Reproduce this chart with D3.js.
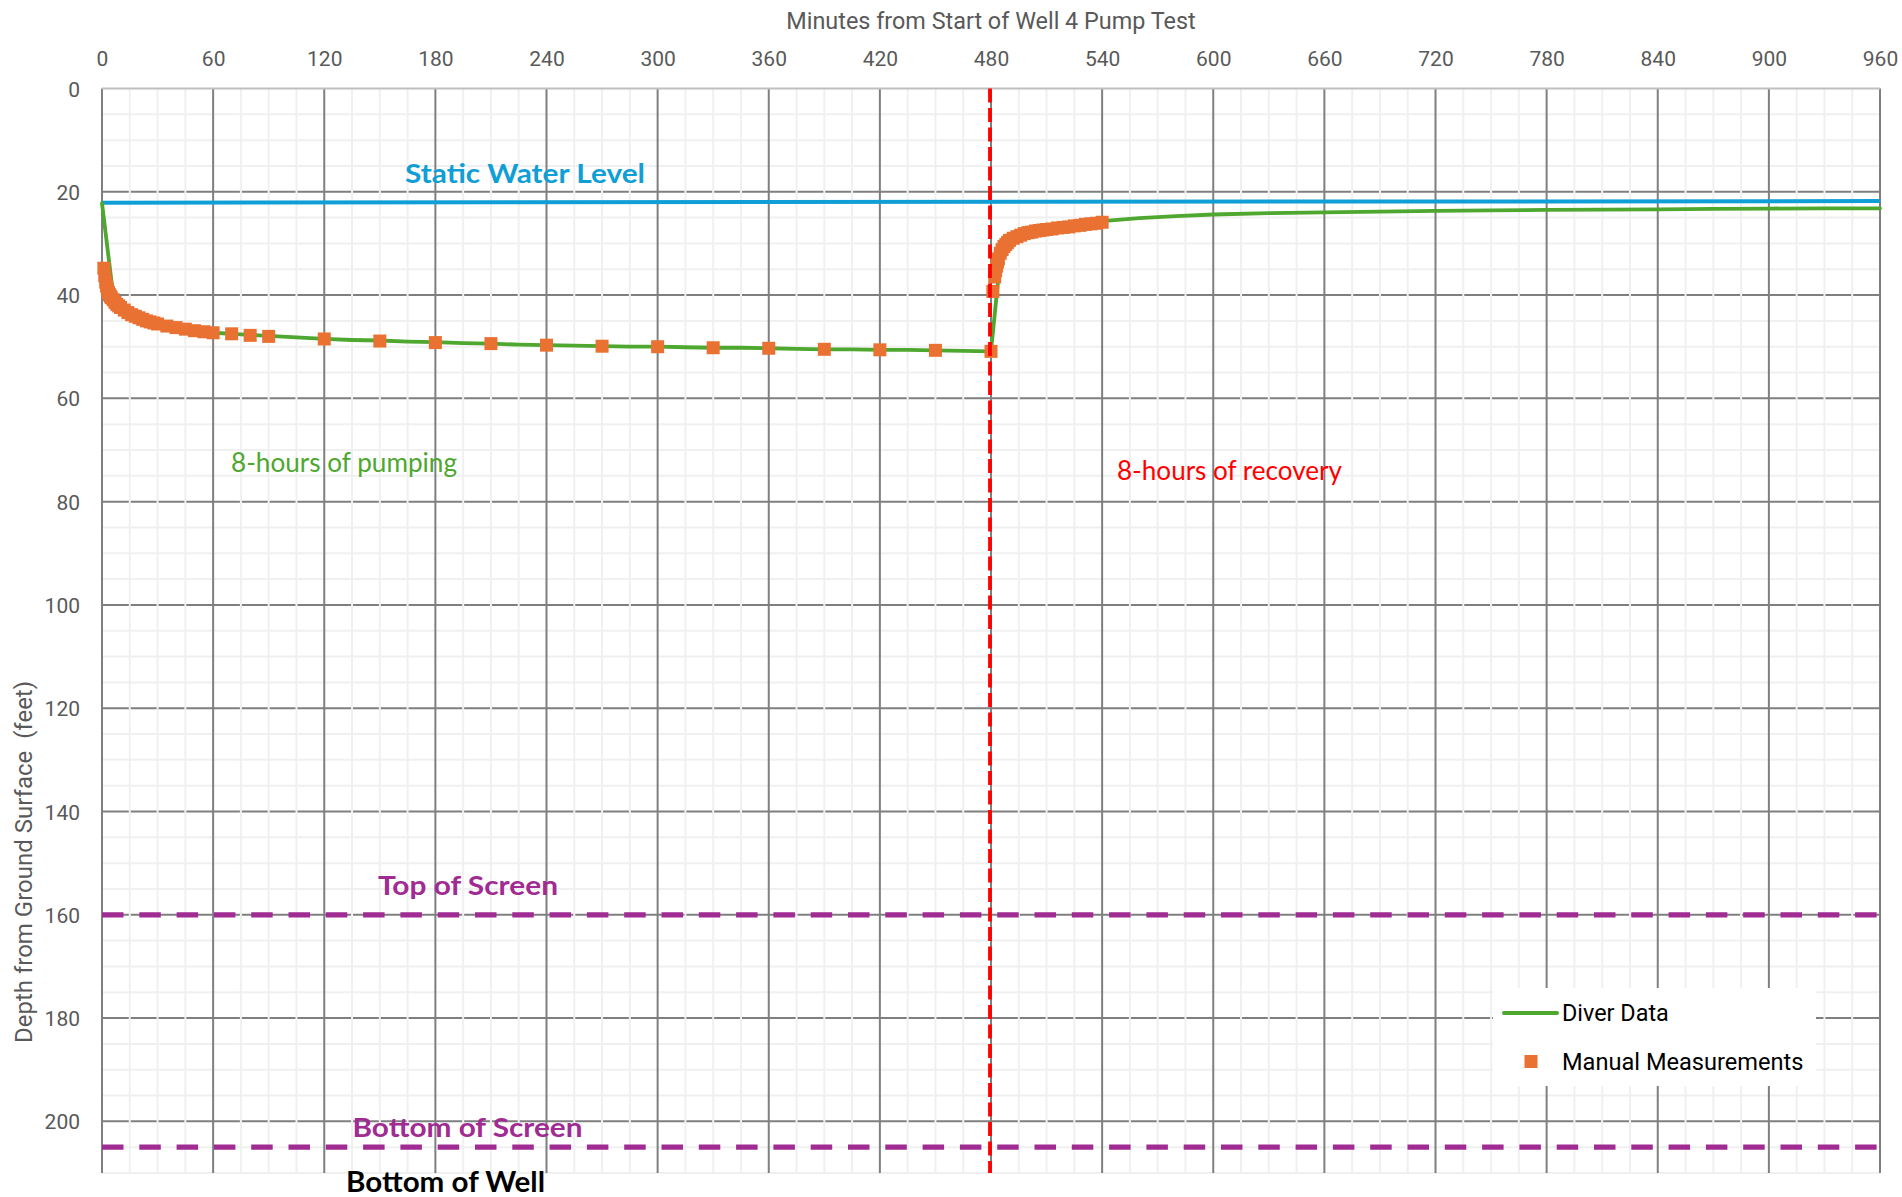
<!DOCTYPE html>
<html><head><meta charset="utf-8">
<script src="https://cdn.jsdelivr.net/npm/d3@7"></script>
<style>
html,body{margin:0;padding:0;background:#fff;}
svg{display:block;}
</style></head>
<body>
<svg id="chart" width="1902" height="1197"></svg>
<script>
// ---------- DATA ----------
const xTicks = [0,60,120,180,240,300,360,420,480,540,600,660,720,780,840,900,960];
const yTicks = [0,20,40,60,80,100,120,140,160,180,200];

const diverT = [0,4.5,6,8,10,15,20,30,40,50,60,75,90,105,120,135,150,165,180,195,210,225,240,255,270,285,300,315,330,345,360,375,390,405,420,435,450,465,480,484,486,488,490,495,500,510,520,530,540,560,580,600,630,660,690,720,750,780,810,840,870,900,930,960];
const diverV = [22.2,35.5,40.0,41.6,42.4,43.6,44.4,45.6,46.3,46.9,47.3,47.6,47.9,48.2,48.5,48.7,48.8,49.0,49.1,49.3,49.4,49.6,49.7,49.8,49.9,50.0,50.0,50.1,50.2,50.2,50.3,50.4,50.5,50.5,50.6,50.6,50.7,50.8,50.9,36.6,31.6,30.2,29.4,28.6,27.9,27.3,26.9,26.4,25.7,25.1,24.7,24.4,24.15,24.0,23.85,23.7,23.6,23.5,23.45,23.4,23.3,23.25,23.2,23.2];

const manualT = [1,1.5,2,2.5,3,3.5,4,4.5,5,6,7,8,9,10,12,14,16,18,20,22,24,26,28,30,35,40,45,50,55,60,70,80,90,120,150,180,210,240,270,300,330,360,390,420,450,480,481,482,482.5,483,483.5,484,485,486,487,488,489,490,492,494,496,498,500,502,504,506,508,510,513,516,519,522,525,528,531,534,537,540];
const manualV = [34.8,36.3,37.5,38.3,39.0,39.5,39.9,40.2,40.5,40.9,41.4,41.8,42.1,42.4,42.9,43.4,43.8,44.1,44.4,44.7,45.0,45.2,45.4,45.6,46.0,46.3,46.6,46.9,47.1,47.3,47.5,47.8,48.0,48.5,48.9,49.2,49.4,49.7,49.9,50.0,50.2,50.3,50.5,50.6,50.7,50.9,39.3,36.5,35.3,34.4,33.6,33.0,31.9,31.2,30.6,30.2,29.8,29.4,29.0,28.7,28.4,28.1,27.9,27.8,27.6,27.5,27.4,27.3,27.2,27.0,26.9,26.8,26.6,26.5,26.3,26.2,26.1,25.9];

const staticT = [0,960];
const staticV = [22.1,21.8];
const screenTop = 160;
const screenBottom = 205;
const pumpStop = 480;

const xTitle = "Minutes from Start of Well 4 Pump Test";
const yTitle = "Depth from Ground Surface  (feet)";
const seriesNames = ["Diver Data","Manual Measurements"];

// ---------- LAYOUT ----------
const svg = d3.select("#chart");
const L = 102, R = 1880, T = 88.5, B = 1173;
const x = d3.scaleLinear().domain([0,960]).range([L,R]);
const y = d3.scaleLinear().domain([0,210]).range([T,B]);

const C = {
  major:"#7f7f7f", minor:"#f0f0f0", axis:"#bfbfbf", label:"#595959",
  green:"#4ea72e", orange:"#e97132", blue:"#0f9ed5", purple:"#a02b93", red:"#ff0000"
};
const tickFont = "Roboto, 'Liberation Sans', sans-serif";
const annFont = "Lato, 'Liberation Sans', sans-serif";

const grid = svg.append("g");
const minorX = d3.range(0,961,15).filter(v=>v%60!==0);
const minorY = d3.range(0,211,5).filter(v=>v%20!==0);

grid.selectAll(".mh").data(minorY).join("line")
  .attr("x1",L).attr("x2",R).attr("y1",d=>y(d)).attr("y2",d=>y(d))
  .attr("stroke",C.minor).attr("stroke-width",2);
grid.selectAll(".Mh").data(yTicks.filter(d=>d>0)).join("line")
  .attr("x1",L).attr("x2",R).attr("y1",d=>y(d)).attr("y2",d=>y(d))
  .attr("stroke",C.major).attr("stroke-width",2);
grid.selectAll(".mv").data(minorX).join("line")
  .attr("x1",d=>x(d)).attr("x2",d=>x(d)).attr("y1",T).attr("y2",B)
  .attr("stroke",C.minor).attr("stroke-width",2);
grid.selectAll(".Mv").data(xTicks).join("line")
  .attr("x1",d=>x(d)).attr("x2",d=>x(d)).attr("y1",T).attr("y2",B)
  .attr("stroke",C.major).attr("stroke-width",2);
grid.append("line").attr("x1",L).attr("x2",R).attr("y1",T).attr("y2",T)
  .attr("stroke",C.axis).attr("stroke-width",2);

const xAxis = d3.axisTop(x).tickValues(xTicks).tickSize(0).tickPadding(0).tickFormat(d3.format("d"));
const gx = svg.append("g").attr("transform",`translate(0,${66})`).call(xAxis);
gx.select(".domain").remove();
gx.selectAll("text").attr("font-family",tickFont).attr("font-size",21).attr("fill",C.label).attr("dy",0);

const yAxis = d3.axisLeft(y).tickValues(yTicks).tickSize(0).tickPadding(0).tickFormat(d3.format("d"));
const gy = svg.append("g").attr("transform",`translate(${80},0)`).call(yAxis);
gy.select(".domain").remove();
gy.selectAll("text").attr("font-family",tickFont).attr("font-size",21).attr("fill",C.label).attr("dy","0.36em");

svg.append("text").attr("x",(L+R)/2).attr("y",29).attr("text-anchor","middle")
  .attr("font-family",tickFont).attr("font-size",23.4).attr("fill",C.label).text(xTitle);
svg.append("text").attr("transform","translate(32,862) rotate(-90)").attr("text-anchor","middle")
  .attr("font-family",tickFont).attr("font-size",24).attr("fill",C.label)
  .attr("xml:space","preserve").style("white-space","pre").text(yTitle);

const line = d3.line().x(d=>x(d[0])).y(d=>y(d[1]));
svg.append("path").datum(staticT.map((t,i)=>[t,staticV[i]])).attr("d",line)
  .attr("fill","none").attr("stroke",C.blue).attr("stroke-width",4);
[screenTop,screenBottom].forEach(v=>{
  svg.append("path").datum([[0,v],[960,v]]).attr("d",line)
    .attr("fill","none").attr("stroke",C.purple).attr("stroke-width",5.3)
    .attr("stroke-dasharray","21.5,15.8");
});

svg.append("path").datum(diverT.map((t,i)=>[t,diverV[i]])).attr("d",line)
  .attr("fill","none").attr("stroke",C.green).attr("stroke-width",3.8)
  .attr("stroke-linejoin","round").attr("stroke-linecap","round");

const ms = 13;
svg.append("g").selectAll("rect").data(manualT.map((t,i)=>[t,manualV[i]])).join("rect")
  .attr("x",d=>x(d[0])-ms/2).attr("y",d=>y(d[1])-ms/2).attr("width",ms).attr("height",ms)
  .attr("fill",C.orange);

svg.append("path").datum([[pumpStop,0],[pumpStop,210]]).attr("d",line)
  .attr("transform","translate(-1,0)")
  .attr("stroke",C.red).attr("stroke-width",3.8).attr("stroke-dasharray","14,5.5");

function ann(txt,px,py,size,weight,color,len){
  const t = svg.append("text").attr("x",px).attr("y",py).attr("font-family",annFont)
    .attr("font-size",size).attr("font-weight",weight).attr("fill",color).text(txt);
  if(len){ t.attr("textLength",len).attr("lengthAdjust","spacingAndGlyphs"); }
}
ann("Static Water Level",405,183,27,"bold",C.blue,240);
ann("Top of Screen",378,895,27,"bold",C.purple,180);
ann("Bottom of Screen",352.5,1137,27,"bold",C.purple,230);
ann("Bottom of Well",346,1192,28,"bold","#000",199);
ann("8-hours of pumping",231,471.5,26,"normal",C.green,226);
ann("8-hours of recovery",1117,480,26,"normal",C.red,225);

const lg = svg.append("g");
lg.append("rect").attr("x",1493).attr("y",988).attr("width",323).attr("height",98).attr("fill","#fff");
lg.append("line").attr("x1",1504).attr("x2",1557).attr("y1",1013).attr("y2",1013)
  .attr("stroke",C.green).attr("stroke-width",4).attr("stroke-linecap","round");
lg.append("rect").attr("x",1524.5).attr("y",1055).attr("width",13).attr("height",13).attr("fill",C.orange);
lg.append("text").attr("x",1562).attr("y",1021).attr("font-family",tickFont).attr("font-size",23.4)
  .attr("fill","#000").text(seriesNames[0]);
lg.append("text").attr("x",1562).attr("y",1069.5).attr("font-family",tickFont).attr("font-size",23.6)
  .attr("fill","#000").text(seriesNames[1]);
</script>
</body></html>
